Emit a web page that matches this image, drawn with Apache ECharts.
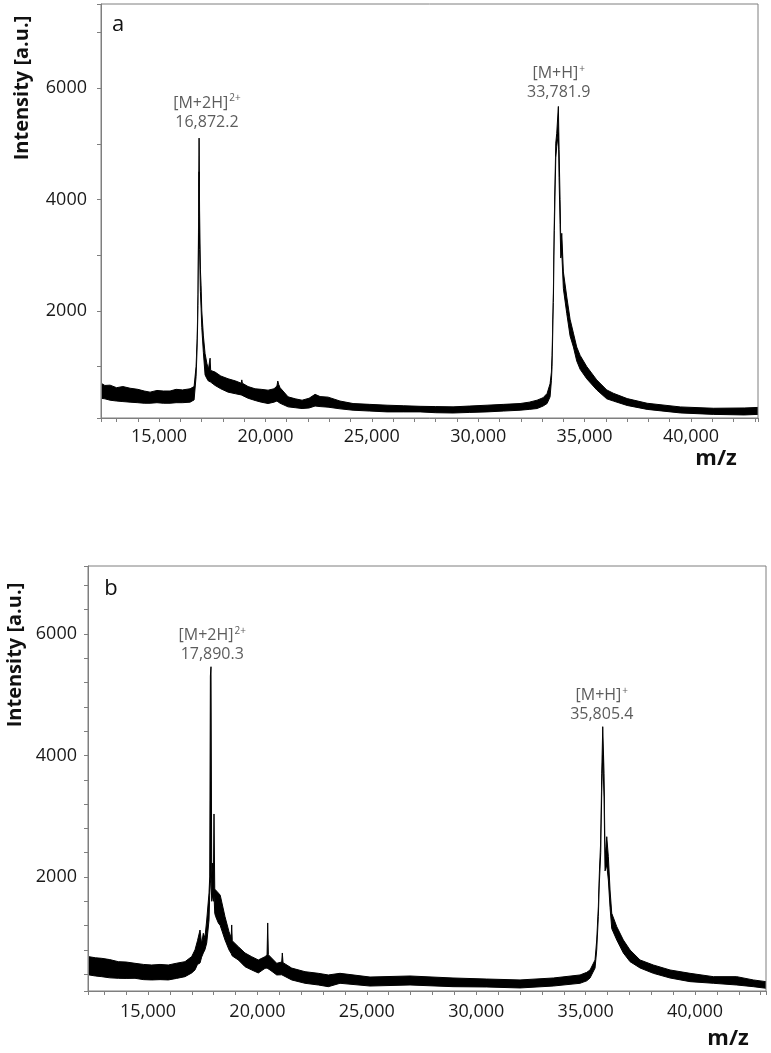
<!DOCTYPE html>
<html>
<head>
<meta charset="utf-8">
<script src="https://cdn.jsdelivr.net/npm/echarts@6/dist/echarts.min.js"></script>
<style>
  html, body { margin: 0; padding: 0; background: #fff; }
  #chart { width: 771px; height: 1053px; }
</style>
</head>
<body>
<div id="chart"></div>
<script>
// panel a: m/z points, upper and lower edge of the noisy trace
const mzA = [12274, 12450, 12697, 13000, 13300, 13637, 14000, 14300, 14577, 14900, 15200, 15517, 15800, 16100, 16457, 16645,
  16739, 16790, 16830, 16857, 16880, 16904, 16941, 16974, 17007, 17082, 17162, 17250, 17317, 17370, 17397, 17425,
  17632, 17900, 18243, 18600, 18860, 18887, 18915, 19183, 19512, 19800, 20123, 20400, 20540, 20579, 20620, 20687,
  21063, 21400, 21721, 22050, 22332, 22567, 22943, 23500, 24118, 24900, 25716, 26500, 27267, 28000, 28818, 29600,
  30416, 31200, 31967, 32400, 32766, 33050, 33236, 33377, 33440, 33471, 33532, 33579, 33645, 33690, 33767, 33800,
  33847, 33880, 33927, 34003, 34163, 34317, 34474, 34630, 34790, 35100, 35570, 36040, 36350, 37000, 37940, 39500,
  41060, 42500, 43150];
const hiA = [700, 660, 665, 620, 640, 610, 590, 560, 540, 570, 560, 560, 590, 580, 600, 640,
  1000, 1500, 2300, 3700, 5105, 3800, 2750, 2450, 2000, 1550, 1230, 1050, 950, 960, 1150, 930,
  900, 830, 780, 740, 700, 760, 700, 640, 600, 590, 575, 600, 650, 740, 680, 620,
  455, 420, 395, 430, 500, 460, 450, 380, 335, 320, 305, 295, 285, 280, 275, 290,
  305, 320, 335, 360, 395, 440, 515, 690, 900, 1200, 2314, 3694, 5015, 5190, 5674, 4900,
  4000, 3214, 3394, 2700, 2250, 1850, 1600, 1350, 1200, 1000, 760, 580, 520, 424, 340, 274,
  250, 255, 265];
const loA = [430, 420, 395, 380, 370, 360, 350, 340, 340, 350, 340, 340, 350, 350, 360, 400,
  820, 1350, 2100, 3400, 4500, 3100, 2350, 2050, 1700, 1250, 850, 780, 740, 740, 760, 720,
  660, 600, 540, 510, 490, 500, 480, 430, 390, 360, 335, 360, 380, 400, 380, 340,
  275, 260, 245, 255, 290, 280, 270, 240, 215, 200, 185, 185, 185, 170, 165, 175,
  185, 200, 215, 230, 245, 290, 335, 455, 750, 1000, 2150, 3450, 4750, 4950, 5200, 4400,
  3550, 2950, 3050, 2400, 1950, 1550, 1350, 1100, 950, 780, 580, 420, 380, 300, 230, 166,
  140, 130, 140];

// panel b
const mzB = [12258, 12600, 12884, 13250, 13643, 14000, 14406, 14800, 15169, 15550, 15928, 16300, 16691, 16997, 17148, 17260,
  17376, 17450, 17527, 17600, 17683, 17788, 17820, 17850, 17879, 17911, 17957, 17990, 18016, 18050, 18094, 18213,
  18300, 18368, 18519, 18700, 18800, 18825, 18850, 19127, 19433, 19739, 20041, 20347, 20440, 20470, 20500, 20575,
  20882, 21110, 21138, 21170, 21567, 22175, 22783, 23240, 23774, 25145, 26973, 28939, 30478, 32000, 33522, 34742,
  35048, 35199, 35428, 35505, 35579, 35625, 35688, 35734, 35780, 35839, 35885, 35930, 35963, 36036, 36113, 36191,
  36420, 36721, 37027, 37484, 38092, 38855, 39769, 40834, 41904, 42662, 43240];
const hiB = [690, 670, 661, 640, 606, 600, 579, 560, 551, 560, 551, 580, 606, 690, 800, 950,
  1127, 900, 1073, 1000, 1292, 1737, 2000, 5308, 5461, 2005, 2230, 2000, 3037, 1800, 1786, 1737,
  1700, 1676, 1346, 1100, 1000, 1210, 950, 853, 749, 688, 634, 688, 720, 1243, 720, 688,
  579, 600, 749, 590, 500, 441, 414, 387, 414, 353, 370, 337, 320, 305, 337, 387,
  430, 469, 634, 963, 1511, 2061, 2609, 3707, 4474, 3707, 2334, 2500, 2663, 2334, 1786, 1402,
  1182, 963, 798, 634, 551, 469, 414, 359, 359, 305, 277];
const loB = [390, 370, 359, 340, 332, 330, 332, 310, 305, 310, 305, 330, 359, 420, 470, 560,
  584, 680, 749, 800, 914, 1292, 1700, 1900, 2000, 1600, 1700, 1600, 1700, 1400, 1346, 1243,
  1200, 1127, 963, 800, 740, 720, 700, 634, 523, 469, 420, 496, 500, 520, 500, 469,
  387, 390, 400, 380, 305, 250, 222, 194, 250, 205, 222, 194, 189, 173, 205, 250,
  290, 337, 500, 800, 1350, 1900, 2400, 3400, 4000, 3300, 2100, 2150, 2200, 1950, 1500, 1150,
  963, 749, 606, 502, 414, 337, 277, 250, 222, 194, 168];

// annotated peaks
const peakMzA = [16872.2, 33781.9];
const peakTopA = [5105, 5674];
const peakMzB = [17890.3, 35805.4];
const peakTopB = [5461, 4474];
const peakIon = ['[M+2H]', '[M+H]'];
const peakCharge = ['2+', '+'];

// tick labels
const xLabels = [15000, 20000, 25000, 30000, 35000, 40000];
const yLabels = [2000, 4000, 6000];

const FONT = "'Open Sans', sans-serif";
const GRAY = '#7f7f7f';

function fmt(v, d) {
  return v.toLocaleString('en-US', { minimumFractionDigits: d, maximumFractionDigits: d });
}

function xAxisFor(grid, min, max, margin) {
  return {
    gridIndex: grid, type: 'value', min: min, max: max, z: 10,
    minInterval: 1000, maxInterval: 1000, splitNumber: 30,
    axisLine: { show: true, lineStyle: { color: GRAY, width: 1 } },
    axisTick: { show: true, inside: false, length: 4, lineStyle: { color: GRAY } },
    axisLabel: {
      margin: margin, fontFamily: FONT, fontSize: 18, color: '#1a1a1a',
      formatter: v => xLabels.indexOf(v) >= 0 ? fmt(v, 0) : ''
    },
    splitLine: { show: false }
  };
}

function yAxisFor(grid, min, max, step, margin) {
  return {
    gridIndex: grid, type: 'value', min: min, max: max, z: 10,
    minInterval: step, maxInterval: step, splitNumber: 20,
    axisLine: { show: true, lineStyle: { color: GRAY, width: 1 } },
    axisTick: { show: true, inside: false, length: 4, lineStyle: { color: GRAY } },
    axisLabel: {
      margin: margin, fontFamily: FONT, fontSize: 18, color: '#1a1a1a',
      formatter: v => yLabels.indexOf(v) >= 0 ? String(v) : ''
    },
    splitLine: { show: false }
  };
}

// upper edge filled black down to the axis, lower edge filled white on top of it,
// so only the band between the two edges stays black
function traceSeries(mz, hi, lo, idx) {
  const upper = mz.map((m, i) => [m, hi[i]]);
  const lower = mz.map((m, i) => [m, lo[i]]);
  const common = {
    type: 'line', xAxisIndex: idx, yAxisIndex: idx,
    symbol: 'none', silent: true, animation: false,
    lineStyle: { color: '#000', width: 1 }
  };
  return [
    Object.assign({ data: upper, z: 2, areaStyle: { color: '#000', opacity: 1, origin: 'start' } }, common),
    Object.assign({ data: lower, z: 3, areaStyle: { color: '#fff', opacity: 1, origin: 'start' } }, common)
  ];
}

function peakSeries(mz, top, idx, offsets, dist) {
  return {
    type: 'scatter', xAxisIndex: idx, yAxisIndex: idx, silent: true, animation: false, z: 5,
    symbolSize: 1, itemStyle: { color: 'rgba(0,0,0,0)' },
    data: mz.map((m, i) => ({
      value: [m, top[i]],
      label: {
        show: true, position: 'top', distance: dist[i], offset: offsets[i],
        formatter: '{i|' + peakIon[i] + '}{s|' + peakCharge[i] + '}\n{i|' + fmt(m, 1) + '}',
        rich: {
          i: { fontFamily: FONT, fontSize: 16, color: '#333', lineHeight: 19 },
          s: { fontFamily: FONT, fontSize: 10, color: '#333', lineHeight: 19, verticalAlign: 'top', padding: [0, 0, 6, 1] }
        }
      }
    }))
  };
}

function txt(x, y, s, size, bold, rot) {
  return {
    type: 'text', x: x, y: y, rotation: rot || 0, silent: true,
    style: {
      text: s, fontFamily: FONT, fontSize: size, fontWeight: bold ? 'bold' : 'normal',
      fill: '#111', textAlign: 'center', textVerticalAlign: 'middle'
    }
  };
}

const chart = echarts.init(document.getElementById('chart'), null, { renderer: 'canvas' });

chart.setOption({
  animation: false,
  backgroundColor: '#fff',
  grid: [
    { left: 101, top: 4, width: 657, height: 414, show: true, z: 10, borderColor: GRAY, borderWidth: 1, backgroundColor: 'transparent' },
    { left: 88, top: 566, width: 678, height: 425, show: true, z: 10, borderColor: GRAY, borderWidth: 1, backgroundColor: 'transparent' }
  ],
  xAxis: [
    xAxisFor(0, 12270, 43150, 10),
    xAxisFor(1, 12258, 43240, 12)
  ],
  yAxis: [
    yAxisFor(0, 75, 7515, 1000, 14),
    yAxisFor(1, 123, 7119, 400, 11)
  ],
  series: [].concat(
    traceSeries(mzA, hiA, loA, 0),
    traceSeries(mzB, hiB, loB, 1),
    [peakSeries(peakMzA, peakTopA, 0, [[8, 0], [0, 0]], [6, 4]),
     peakSeries(peakMzB, peakTopB, 1, [[1, 0], [-1.5, 0]], [2, 2])]
  ),
  graphic: [
    txt(22, 88, 'Intensity [a.u.]', 20, true, Math.PI / 2),
    txt(15, 655, 'Intensity [a.u.]', 20, true, Math.PI / 2),
    txt(716, 459, 'm/z', 22, true),
    txt(728, 1039, 'm/z', 22, true),
    txt(118, 25, 'a', 22, false),
    txt(111, 589, 'b', 22, false)
  ]
});
</script>
</body>
</html>
